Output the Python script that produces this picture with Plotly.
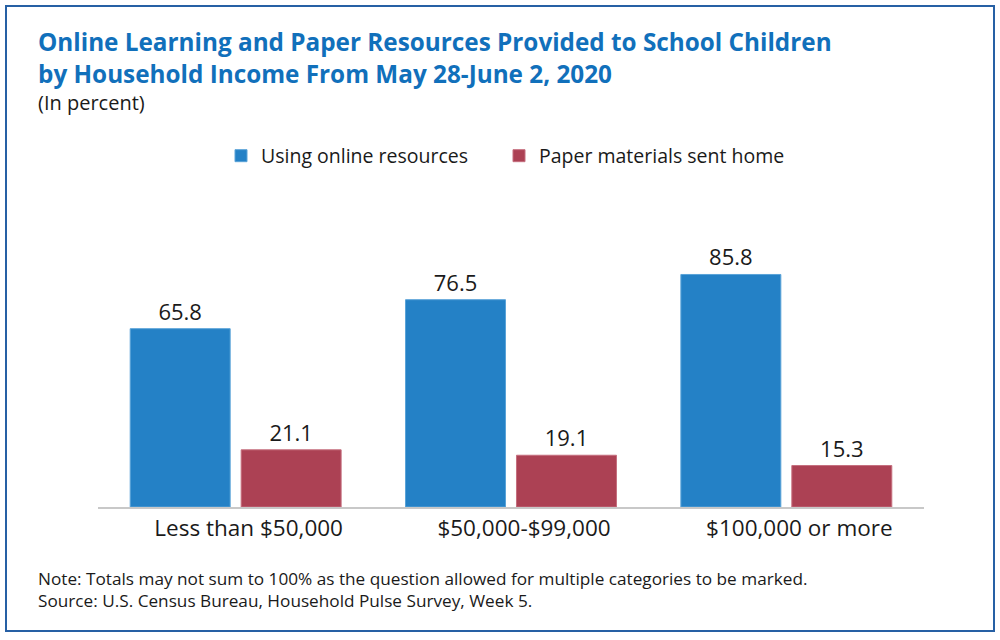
import plotly.graph_objects as go

categories = ["Less than $50,000", "$50,000-$99,000", "$100,000 or more"]
series_names = ["Using online resources", "Paper materials sent home"]
online_values = [65.8, 76.5, 85.8]
paper_values = [21.1, 19.1, 15.3]

W, H = 1000, 640
L, R, T, B = 98, 924, 236, 507


def px(x):
    return (x - L) / (R - L)


def py(y):
    return (B - y) / (B - T)


FONT = "Open Sans"
TEXT = "#1a1a1a"
TITLE_BLUE = "#1170bb"

fig = go.Figure()
fig.add_trace(go.Bar(
    x=categories, y=online_values, name=series_names[0], legend="legend",
    marker=dict(color="#2481c6", line=dict(color="#5aa3d8", width=1)),
    text=[f"{v:.1f}" for v in online_values], textposition="outside",
    textfont=dict(size=22, color=TEXT, family=FONT), cliponaxis=False,
))
fig.add_trace(go.Bar(
    x=categories, y=paper_values, name=series_names[1], legend="legend2",
    marker=dict(color="#ac4154", line=dict(color="#c56f7e", width=1)),
    text=[f"{v:.1f}" for v in paper_values], textposition="outside",
    textfont=dict(size=22, color=TEXT, family=FONT), cliponaxis=False,
))

legend_common = dict(orientation="h", yanchor="middle", xanchor="left",
                     font=dict(size=19.5, color=TEXT, family=FONT),
                     itemwidth=30, bgcolor="rgba(0,0,0,0)")

fig.update_layout(
    width=W, height=H,
    margin=dict(l=L, r=W - R, t=T, b=H - B, pad=0),
    paper_bgcolor="white", plot_bgcolor="white",
    font=dict(family=FONT, color=TEXT),
    barmode="group", bargap=0.194, bargroupgap=0.099,
    showlegend=True,
    legend=dict(x=px(221), y=py(156), **legend_common),
    legend2=dict(x=px(499), y=py(156), **legend_common),
    xaxis=dict(showline=True, linecolor="#c8c8c8", linewidth=2,
               ticks="", showgrid=False, zeroline=False,
               ticklabelshift=13,
               tickfont=dict(size=22.5, color=TEXT, family=FONT)),
    yaxis=dict(range=[0, 100], visible=False, showgrid=False, zeroline=False),
)

title_lines = ["Online Learning and Paper Resources Provided to School Children",
               "by Household Income From May 28-June 2, 2020"]
fig.add_annotation(
    xref="paper", yref="paper", x=px(37), y=py(57.5),
    xanchor="left", yanchor="middle", showarrow=False, align="left",
    borderpad=0,
    text="<b>" + "<br>".join(title_lines) + "</b>",
    font=dict(size=24.3, color=TITLE_BLUE, family=FONT),
)
fig.add_annotation(
    xref="paper", yref="paper", x=px(37), y=py(102.5), xanchor="left", yanchor="middle",
    showarrow=False, borderpad=0, text="(In percent)",
    font=dict(size=20, color=TEXT, family=FONT),
)
note_lines = ["Note: Totals may not sum to 100% as the question allowed for multiple categories to be marked.",
              "Source: U.S. Census Bureau, Household Pulse Survey, Week 5."]
fig.add_annotation(
    xref="paper", yref="paper", x=px(37), y=py(589),
    xanchor="left", yanchor="middle", showarrow=False, align="left",
    borderpad=0, text="<br>".join(note_lines),
    font=dict(size=17.2, color=TEXT, family=FONT),
)

fig.add_shape(
    type="rect", xref="paper", yref="paper",
    x0=px(6), x1=px(994), y0=py(631), y1=py(6),
    line=dict(color="#2660a4", width=2), fillcolor="rgba(0,0,0,0)", layer="above",
)

fig.write_html("out.html", config={"displayModeBar": False},
               post_script="document.body.style.margin='0px';document.body.style.overflow='hidden';")
